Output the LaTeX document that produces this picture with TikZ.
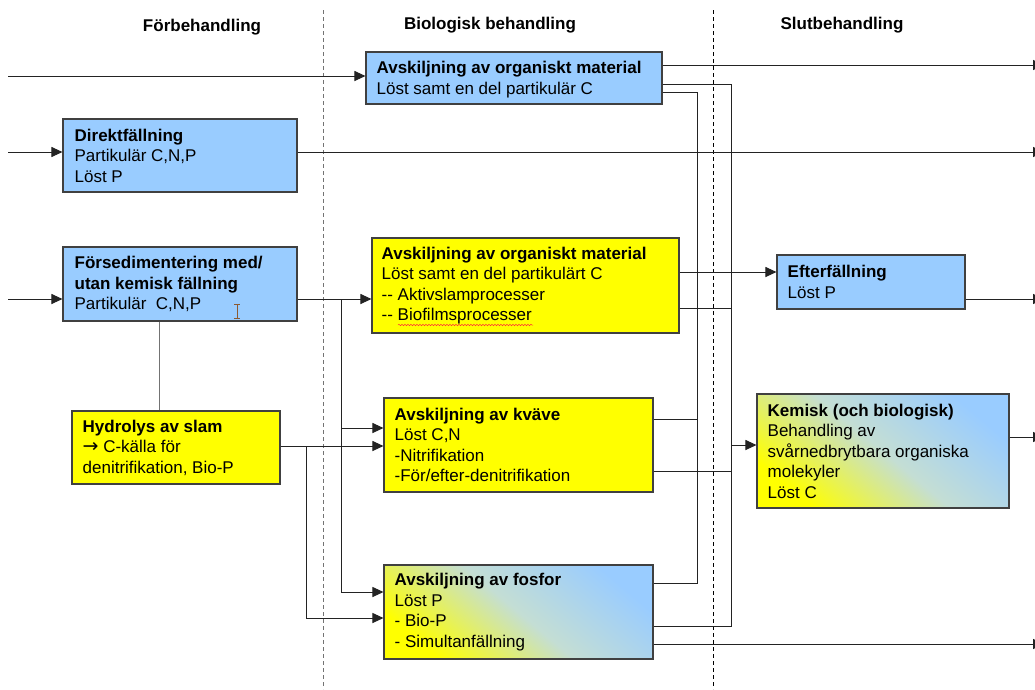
\documentclass[tikz,border=0pt]{standalone}
\usepackage{fontspec}
\setmainfont{Liberation Sans}
\newfontfamily\djv{DejaVu Sans}
\usetikzlibrary{arrows.meta,decorations.pathmorphing}
\definecolor{boxblue}{RGB}{153,204,255}
\definecolor{boxyellow}{RGB}{255,255,0}
\definecolor{boxmid}{RGB}{196,222,212}
\definecolor{linecol}{RGB}{35,35,35}
\definecolor{cursorcol}{RGB}{140,90,50}
\begin{document}
\begin{tikzpicture}[x=1pt,y=-1pt,
  box/.style={draw=black!75,line width=1.1pt,inner sep=0pt},
  bluebox/.style={box,fill=boxblue},
  yellowbox/.style={box,fill=boxyellow},
  gradbox/.style={box,top color=boxblue,bottom color=boxyellow,middle color=boxmid,shading angle=-40},
  txt/.style={anchor=west,align=left,inner sep=0pt,font=\fontsize{17}{20.5}\selectfont},
  hdr/.style={inner sep=0pt,font=\bfseries\fontsize{17}{20}\selectfont},
  conn/.style={draw=linecol,line width=1pt},
  arr/.style={conn,-{Triangle[length=11pt,width=10pt]}},
  sep/.style={line width=0.8pt,dash pattern=on 4pt off 3pt}
]
\useasboundingbox[fill=white] (0,0) rectangle (1035,689);

% column separators
\draw[sep,draw=black!55] (323,10) -- (323,689);
\draw[sep,draw=black] (713,10) -- (713,689);

% headers
\node[hdr] (h1) at (202,27) {Förbehandling};
\node[hdr] (h2) at (490,25) {Biologisk behandling};
\node[hdr] (h3) at (842,25) {Slutbehandling};

% boxes
\node[bluebox,minimum width=296pt,minimum height=52pt] (org1) at (514,78) {};
\node[txt] (org1t) at ([xshift=11pt,yshift=-1.5pt]org1.west) {\textbf{Avskiljning av organiskt material}\\Löst samt en del partikulär C};

\node[bluebox,minimum width=234pt,minimum height=73pt] (direkt) at (180,155.5) {};
\node[txt] (direktt) at ([xshift=12pt]direkt.west) {\textbf{Direktfällning}\\Partikulär C,N,P\\Löst P};

\node[bluebox,minimum width=234pt,minimum height=74pt] (forsed) at (180,284) {};
\node[txt] (forsedt) at ([xshift=12pt]forsed.west) {\textbf{Försedimentering med/}\\\textbf{utan kemisk fällning}\\Partikulär\ \ C,N,P};

\node[yellowbox,minimum width=208pt,minimum height=73pt] (hydro) at (176,447.5) {};
\node[txt] (hydrot) at ([xshift=11pt]hydro.west) {\textbf{Hydrolys av slam}\\{\djv\fontsize{19}{20}\selectfont →} C-källa för\\denitrifikation, Bio-P};

\node[yellowbox,minimum width=307pt,minimum height=95pt] (org2) at (525.5,285.5) {};
\node[txt] (org2t) at ([xshift=10pt]org2.west) {\textbf{Avskiljning av organiskt material}\\Löst samt en del partikulärt C\\-{}- Aktivslamprocesser\\-{}- Biofilmsprocesser};

\node[yellowbox,minimum width=269pt,minimum height=94pt] (kvave) at (518.5,445) {};
\node[txt] (kvavet) at ([xshift=11pt]kvave.west) {\textbf{Avskiljning av kväve}\\Löst C,N\\-Nitrifikation\\-För/efter-denitrifikation};

\node[gradbox,minimum width=269pt,minimum height=94pt] (fosfor) at (518.5,612) {};
\node[txt] (fosfort) at ([xshift=11pt]fosfor.west) {\textbf{Avskiljning av fosfor}\\Löst P\\- Bio-P\\- Simultanfällning};

\node[bluebox,minimum width=188pt,minimum height=54pt] (efter) at (871,282) {};
\node[txt] (eftert) at ([xshift=11pt]efter.west) {\textbf{Efterfällning}\\Löst P};

\node[gradbox,minimum width=252pt,minimum height=114pt] (kemisk) at (883,451) {};
\node[txt] (kemiskt) at ([xshift=11pt]kemisk.west) {\textbf{Kemisk (och biologisk)}\\Behandling av\\svårnedbrytbara organiska\\molekyler\\Löst C};

% spell-check squiggle and text cursor
\draw[red!80,line width=0.5pt,decorate,decoration={snake,amplitude=0.7pt,segment length=3pt}] (398,325) -- (533,325);
\draw[cursorcol,line width=0.8pt] (237,304) -- (237,318) (234,304) -- (240,304) (234,318) -- (240,318);

% connectors
\coordinate (inA) at (8,76);
\draw[arr] (inA) -- (inA -| org1.west);
\coordinate (outA) at (1044,65);
\draw[arr] (outA -| org1.east) -- (outA);

\coordinate (busR1) at (731,84); \coordinate (busR2) at (731,626);
\draw[conn] (busR1 -| org1.east) -- (busR1) -- (busR2) -- (busR2 -| fosfor.east);
\coordinate (busL1) at (697,92); \coordinate (busL2) at (697,583);
\draw[conn] (busL1 -| org1.east) -- (busL1) -- (busL2) -- (busL2 -| fosfor.east);

\coordinate (kvL) at (697,419); \draw[conn] (kvL -| kvave.east) -- (kvL);
\coordinate (kvR) at (731,471); \draw[conn] (kvR -| kvave.east) -- (kvR);
\coordinate (o2R) at (731,308); \draw[conn] (o2R -| org2.east) -- (o2R);
\coordinate (o2E) at (700,272); \draw[arr] (o2E -| org2.east) -- (o2E -| efter.west);
\coordinate (kmIn) at (731,445); \draw[arr] (kmIn) -- (kmIn -| kemisk.west);

\coordinate (outE) at (1044,299); \draw[arr] (outE -| efter.east) -- (outE);
\coordinate (outK) at (1044,437); \draw[arr] (outK -| kemisk.east) -- (outK);
\coordinate (outF) at (1044,644); \draw[arr] (outF -| fosfor.east) -- (outF);

\coordinate (inD) at (8,152); \draw[arr] (inD) -- (inD -| direkt.west);
\coordinate (outD) at (1044,152); \draw[arr] (outD -| direkt.east) -- (outD);

\coordinate (inF) at (8,299); \draw[arr] (inF) -- (inF -| forsed.west);
\draw[arr] (inF -| forsed.east) -- (inF -| org2.west);

\coordinate (v1t) at (341,299); \coordinate (v1b) at (341,592);
\draw[arr] (v1t) -- (v1b) -- (v1b -| fosfor.west);
\coordinate (v1k) at (341,428); \draw[arr] (v1k) -- (v1k -| kvave.west);

\coordinate (hyO) at (306,446); \draw[arr] (hyO -| hydro.east) -- (hyO -| kvave.west);
\coordinate (v2b) at (306,618); \draw[arr] (hyO) -- (v2b) -- (v2b -| fosfor.west);

\coordinate (hyT) at (159,0);
\draw[conn,draw=black!55] (hyT |- forsed.south) -- (hyT |- hydro.north);
\end{tikzpicture}
\end{document}
